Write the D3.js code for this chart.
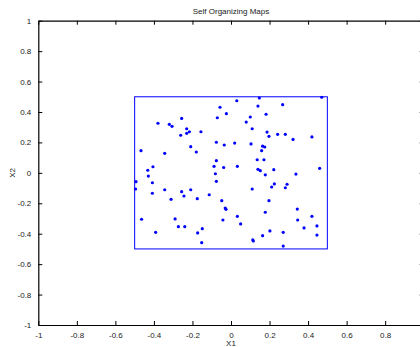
<!DOCTYPE html>
<html><head><meta charset="utf-8">
<script src="https://cdn.jsdelivr.net/npm/d3@7"></script>
<style>body{margin:0;background:#fff}svg{display:block}text{font-family:"Liberation Sans",Arial,sans-serif}</style>
</head><body><svg id="c" width="420" height="347"></svg>
<script>
const title = "Self Organizing Maps";
const xLabel = "X1", yLabel = "X2";
const xTicks = [-1,-0.8,-0.6,-0.4,-0.2,0,0.2,0.4,0.6,0.8,1];
const xTickLabels = ["-1","-0.8","-0.6","-0.4","-0.2","0","0.2","0.4","0.6","0.8",""];
const yTicks = [-1,-0.8,-0.6,-0.4,-0.2,0,0.2,0.4,0.6,0.8,1];
const yTickLabels = ["-1","-0.8","-0.6","-0.4","-0.2","0","0.2","0.4","0.6","0.8","1"];
const boxX = [-0.5, 0.5];
const boxY = [-0.5, 0.5];
const X1 = [-0.057,-0.024,-0.256,-0.071,-0.379,-0.320,-0.306,-0.230,-0.216,-0.230,-0.156,-0.261,-0.076,-0.035,-0.209,-0.467,-0.344,-0.180,-0.076,-0.405,-0.432,-0.088,-0.038,-0.081,
0.030,0.147,0.471,0.140,0.268,0.100,0.182,0.079,0.110,0.187,0.197,0.242,0.282,0.322,0.420,0.019,0.104,0.164,0.175,0.159,0.136,0.171,0.033,0.140,0.152,0.222,0.460,0.337,0.178,
-0.429,-0.493,-0.408,-0.076,-0.495,-0.408,-0.344,-0.256,-0.244,-0.209,-0.311,-0.175,-0.113,-0.048,-0.030,-0.026,-0.464,-0.290,-0.042,-0.273,-0.240,-0.391,-0.173,-0.149,-0.152,
0.110,0.211,0.225,0.282,0.291,0.197,0.178,0.344,0.033,0.050,0.420,0.346,0.379,0.446,0.446,0.202,0.271,0.164,0.113,0.116,0.271];
const X2 = [0.431,0.389,0.358,0.362,0.326,0.319,0.306,0.290,0.270,0.260,0.270,0.247,0.201,0.183,0.172,0.146,0.128,0.137,0.080,0.040,0.017,0.043,0.035,-0.006,
0.474,0.492,0.497,0.439,0.448,0.367,0.385,0.334,0.290,0.268,0.240,0.253,0.253,0.220,0.236,0.196,0.190,0.175,0.170,0.146,0.086,0.086,0.043,0.023,0.014,0.021,0.030,-0.008,-0.013,
-0.021,-0.058,-0.065,-0.056,-0.106,-0.134,-0.111,-0.124,-0.152,-0.111,-0.174,-0.170,-0.144,-0.183,-0.231,-0.240,-0.305,-0.303,-0.310,-0.354,-0.354,-0.391,-0.395,-0.367,-0.459,
-0.106,-0.093,-0.073,-0.098,-0.075,-0.183,-0.259,-0.238,-0.286,-0.336,-0.286,-0.310,-0.362,-0.349,-0.409,-0.382,-0.391,-0.413,-0.441,-0.448,-0.481];

const svg = d3.select("#c");
const x = d3.scaleLinear().domain([-1,1]).range([38.3,423.7]);
const y = d3.scaleLinear().domain([-1,1]).range([325,20.7]);

function style(g){
  g.select(".domain").attr("stroke","#000").attr("stroke-width",1.2);
  g.selectAll(".tick line").attr("stroke","#000");
  g.selectAll("text").attr("fill","#222").style("font-size","8px").style("font-family",'"Liberation Sans",Arial,sans-serif');
}
const gx = svg.append("g").attr("transform",`translate(0,${y(-1)})`)
  .call(d3.axisBottom(x).tickValues(xTicks).tickFormat((d,i)=>xTickLabels[i]).tickSizeInner(-4).tickSizeOuter(0).tickPadding(7));
style(gx);
const gxt = svg.append("g").attr("transform",`translate(0,${y(1)})`)
  .call(d3.axisTop(x).tickValues(xTicks).tickFormat("").tickSizeInner(-4).tickSizeOuter(0));
style(gxt);
const gy = svg.append("g").attr("transform",`translate(${x(-1)},0)`)
  .call(d3.axisLeft(y).tickValues(yTicks).tickFormat((d,i)=>yTickLabels[i]).tickSizeInner(-4).tickSizeOuter(0).tickPadding(7));
style(gy);
const gyr = svg.append("g").attr("transform",`translate(${x(1)},0)`)
  .call(d3.axisRight(y).tickValues(yTicks).tickFormat("").tickSizeInner(-4).tickSizeOuter(0));
style(gyr);

svg.append("rect")
  .attr("x",x(boxX[0])).attr("y",y(boxY[1]))
  .attr("width",x(boxX[1])-x(boxX[0])).attr("height",y(boxY[0])-y(boxY[1]))
  .attr("fill","none").attr("stroke","#0000ff").attr("stroke-width",1);

svg.append("g").selectAll("circle").data(X1.map((v,i)=>[v,X2[i]])).join("circle")
  .attr("cx",d=>x(d[0])).attr("cy",d=>y(d[1])).attr("r",1.6).attr("fill","#0000ff");

svg.append("text").attr("x",x(0)).attr("y",14).attr("text-anchor","middle")
  .style("font-size","8px").attr("fill","#222").text(title);
svg.append("text").attr("x",x(0)).attr("y",346).attr("text-anchor","middle")
  .style("font-size","8px").attr("fill","#222").text(xLabel);
svg.append("text").attr("transform",`translate(15,${y(0)}) rotate(-90)`).attr("text-anchor","middle")
  .style("font-size","8px").attr("fill","#222").text(yLabel);
</script></body></html>
